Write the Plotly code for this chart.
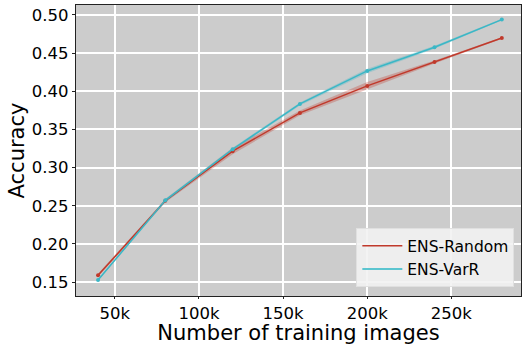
import plotly.graph_objects as go

x_vals = [40000, 80000, 120000, 160000, 200000, 240000, 280000]
random_acc = [0.1588, 0.2565, 0.3215, 0.3716, 0.4070, 0.4384, 0.4698]
random_std = [0.002, 0.002, 0.004, 0.003, 0.005, 0.002, 0.001]
varr_acc = [0.1526, 0.2570, 0.3240, 0.3834, 0.4266, 0.4576, 0.4939]
varr_std = [0.001, 0.002, 0.002, 0.002, 0.003, 0.002, 0.001]

x_tickvals = [50000, 100000, 150000, 200000, 250000]
x_ticktext = ["50k", "100k", "150k", "200k", "250k"]
y_tickvals = [0.15, 0.20, 0.25, 0.30, 0.35, 0.40, 0.45, 0.50]
y_ticktext = ["0.15", "0.20", "0.25", "0.30", "0.35", "0.40", "0.45", "0.50"]

red = "#c0392b"
cyan = "#3ab7c6"

fig = go.Figure()

def band(y, s, color_rgba):
    up = [a + b for a, b in zip(y, s)]
    lo = [a - b for a, b in zip(y, s)]
    fig.add_trace(go.Scatter(x=x_vals + x_vals[::-1], y=up + lo[::-1], fill="toself",
                             fillcolor=color_rgba, line=dict(width=0), hoverinfo="skip",
                             showlegend=False, mode="lines"))

band(random_acc, random_std, "rgba(192,57,43,0.3)")
band(varr_acc, varr_std, "rgba(58,183,198,0.3)")

fig.add_trace(go.Scatter(x=x_vals, y=random_acc, mode="lines+markers", showlegend=False,
                         line=dict(color=red, width=1.5), marker=dict(size=4, color=red)))
fig.add_trace(go.Scatter(x=x_vals, y=varr_acc, mode="lines+markers", showlegend=False,
                         line=dict(color=cyan, width=1.5), marker=dict(size=4, color=cyan)))
# legend entries (line only)
fig.add_trace(go.Scatter(x=[None], y=[None], mode="lines", name="ENS-Random",
                         line=dict(color=red, width=1.5)))
fig.add_trace(go.Scatter(x=[None], y=[None], mode="lines", name="ENS-VarR",
                         line=dict(color="#5cc5d0", width=2)))

font = "DejaVu Sans"
fig.update_layout(
    width=522, height=345,
    margin=dict(l=76, r=1, t=5, b=49),
    paper_bgcolor="white", plot_bgcolor="#cccccc",
    font=dict(family=font, color="black"),
    legend=dict(x=0.985, y=0.03, xanchor="right", yanchor="bottom",
                bgcolor="rgba(242,242,242,0.9)", bordercolor="#e0e0e0", borderwidth=1,
                font=dict(size=15.5, family=font), tracegroupgap=0, itemwidth=40),
    xaxis=dict(range=[26900, 291400], tickvals=x_tickvals, ticktext=x_ticktext,
               tickfont=dict(size=16.5), showgrid=True, gridcolor="white", gridwidth=1.5,
               zeroline=False, showline=True, linecolor="#222", linewidth=1.2, mirror=True,
               ticks="outside", ticklen=2, tickcolor="#222",
               title=dict(text="Number of training images", font=dict(size=21), standoff=2)),
    yaxis=dict(range=[0.1317, 0.513], tickvals=y_tickvals, ticktext=y_ticktext,
               tickfont=dict(size=16.5), showgrid=True, gridcolor="white", gridwidth=1.5,
               zeroline=False, showline=True, linecolor="#222", linewidth=1.2, mirror=True,
               ticks="outside", ticklen=3, tickcolor="#222",
               title=dict(text="Accuracy", font=dict(size=21), standoff=1)),
)

fig.write_html("out.html")
